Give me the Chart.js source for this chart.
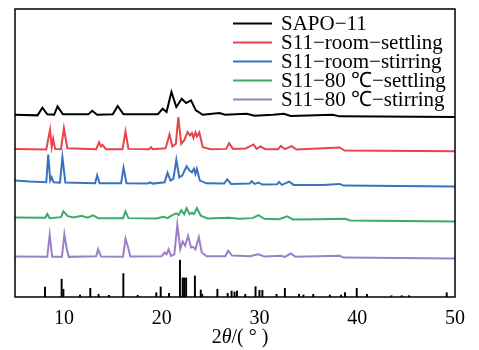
<!DOCTYPE html>
<html>
<head>
<meta charset="utf-8">
<script src="https://cdn.jsdelivr.net/npm/chart.js@4/dist/chart.umd.min.js"></script>
<style>
  html, body { margin: 0; padding: 0; background: #fff; }
  #wrap { width: 479px; height: 350px; }
</style>
</head>
<body>
<div id="wrap"><canvas id="xrd"></canvas></div>
<script>
// XRD patterns, [2theta, intensity above own baseline]
const sapo11 = [[5,2.3],[7.3,1.7],[7.8,9.3],[8.3,2.7],[9.0,2.3],[9.35,10.7],[9.9,2.7],[12.5,2.7],[12.9,6.3],[13.4,2.3],
  [15.0,2.7],[15.5,11],[16.1,2.7],[19.6,2.7],[20.1,8.3],[20.5,5],[21.0,25],[21.5,10],[22.05,18.3],[22.5,14],[23.0,16.7],
  [23.5,6.7],[24.2,2.3],[25.9,4],[26.5,2.3],[28.7,3.3],[29.5,1.3],[31.4,2.3],[32.5,3.3],[33.2,1],[37.5,2.3],[38.2,0.7],[50,0]];

const roomSettling = [[5,2.3],[8.2,1.7],[8.58,21.3],[8.75,4],[8.9,12.3],[9.1,2.3],[9.7,2],[10.0,23],[10.35,3],[13.3,2],
  [13.6,9],[13.8,4.7],[13.95,6.3],[14.3,2],[16.0,2],[16.3,19.7],[16.6,2.3],[18.7,2],[18.9,4],[19.1,2],[20.4,3],[20.8,16.7],
  [21.1,4.7],[21.45,7.3],[21.7,34],[22.0,7.3],[22.3,10.7],[22.65,19],[22.9,15.7],[23.1,18],[23.25,13.3],[23.45,18.7],
  [23.6,14.7],[23.85,18.7],[24.2,4],[25.0,2],[26.6,2.3],[26.9,8],[27.3,2.3],[28.6,2.7],[29.4,6.7],[29.7,2.3],[30.1,4.7],
  [30.6,2],[31.9,2],[32.2,5.3],[32.6,2],[33.3,5],[33.8,1.7],[38.2,3.7],[38.7,0.7],[50,0]];

const roomStirring = [[5,6],[6.5,5],[8.2,4.3],[8.4,32],[8.6,6],[8.75,9.3],[8.95,4.3],[9.6,4],[9.85,29.3],[10.15,4],
  [13.2,3.3],[13.4,11.3],[13.65,3.3],[15.85,3.3],[16.1,18.7],[16.4,3.3],[18.6,3],[18.8,4.3],[19.1,3],[20.3,4.3],[20.6,13.7],
  [20.9,6],[21.2,7.7],[21.5,26.7],[21.8,9.3],[22.1,11],[22.55,20.3],[22.85,16],[23.1,14.3],[23.3,17.7],[23.45,12.7],
  [23.6,17.7],[23.9,6],[24.6,3.3],[26.4,3],[26.7,7.3],[27.1,2.7],[29.0,3],[29.2,5.3],[29.5,2.7],[29.9,4],[30.3,2],
  [31.8,2.3],[32.0,4.7],[32.3,1.7],[33.05,5],[33.5,1.7],[36.5,1.7],[38.2,2.7],[38.6,1],[50,0]];

const hotSettling = [[5,4],[8.1,3.7],[8.3,7.3],[8.55,3.3],[9.7,4.3],[9.95,10],[10.4,5.3],[11.0,4],[11.8,5.7],[12.4,3.7],
  [13.0,6],[13.5,3.3],[16.05,3.3],[16.3,10],[16.6,3.3],[19.5,3],[20.2,4.7],[20.6,3.3],[21.0,5.7],[21.5,8],[21.75,6.3],
  [22.0,11.3],[22.3,7.3],[22.55,13.3],[22.85,7.3],[23.1,8.7],[23.3,7.3],[23.6,13.3],[24.0,5.7],[24.7,3],[26.9,3.7],
  [27.9,2.7],[29.3,3.3],[29.9,6.3],[30.5,2.7],[32.0,2.3],[32.85,5],[33.4,2],[35.8,2.3],[38.75,2.7],[39.3,1],[50,0]];

const hotStirring = [[5,2],[8.3,1.7],[8.55,23.7],[8.8,1.7],[9.8,1.7],[10.05,24.3],[10.3,9.3],[10.5,1.7],[13.3,2.3],
  [13.5,9.3],[13.8,2],[16.05,1.7],[16.3,20],[16.55,11.7],[16.8,2],[20.0,2.3],[20.3,6],[20.5,4.3],[20.7,9.3],[20.95,2.7],
  [21.3,4.3],[21.6,33.7],[21.9,9.3],[22.15,17],[22.4,12.7],[22.7,22.7],[23.0,11],[23.2,11.7],[23.45,9.3],[23.8,21.3],
  [24.1,6],[24.6,2.3],[26.5,2.3],[26.8,7.7],[27.2,3],[29.1,2.3],[29.4,3.3],[29.9,4.3],[30.5,2],[32.2,2.7],[32.6,1.7],
  [33.2,5],[33.7,1.7],[38.2,2.7],[38.6,1],[50,0]];

// standard reference pattern (sticks)
const refSticks = [[8.07,10],[9.77,17.7],[9.95,7.7],[11.65,2],[12.7,8.7],[13.55,2.7],[14.6,1.7],[16.08,23.3],[17.55,1.7],
  [19.45,4.3],[19.9,10],[20.75,3.7],[21.87,36.7],[22.15,19],[22.3,19],[22.5,19],[23.4,21],[24.0,7],[24.15,2.7],[25.7,7.7],
  [26.75,3.7],[27.15,6],[27.45,5],[27.7,6],[28.55,2.7],[29.6,10.3],[30.0,6.7],[30.3,6.7],[31.75,2.7],[32.6,8.7],[34.05,2.7],
  [34.5,2],[35.5,2.7],[37.2,2],[38.35,2],[38.75,4.3],[39.95,8.7],[41.0,2.7],[43.5,1.3],[44.55,1.3],[45.3,1.3],[49.15,4.3]];

const seriesNames = ['SAPO\u221211', 'S11\u2212room\u2212settling', 'S11\u2212room\u2212stirring',
  'S11\u221280 \u2103\u2212settling', 'S11\u221280 \u2103\u2212stirring'];
const seriesData = [sapo11, roomSettling, roomStirring, hotSettling, hotStirring];
const seriesColours = ['#000000', '#e8454b', '#3a72c0', '#3caa6c', '#9c80c6'];
// vertical stacking offsets
const stackOffsets = [179.3, 145.3, 110, 75.3, 38.3];

const xTicks = [10, 20, 30, 40, 50];

const serif = '"Liberation Serif", "Times New Roman", serif';

const datasets = seriesData.map((s, i) => ({
  type: 'line',
  label: seriesNames[i],
  data: s.map(p => ({ x: p[0], y: p[1] + stackOffsets[i] })),
  borderColor: seriesColours[i],
  borderWidth: 2,
  pointRadius: 0,
  tension: 0,
  fill: false
}));
datasets.push({
  type: 'bar',
  label: '',
  data: refSticks.map(p => ({ x: p[0], y: p[1] })),
  backgroundColor: '#000',
  barThickness: 1.3,
  grouped: false
});

const framePlugin = {
  id: 'frame',
  afterDraw(chart) {
    const { ctx, chartArea: a } = chart;
    ctx.save();
    ctx.strokeStyle = '#000';
    ctx.lineWidth = 1.5;
    ctx.strokeRect(a.left, a.top, a.right - a.left, a.bottom - a.top);

    // legend
    ctx.font = '21px ' + serif;
    ctx.textBaseline = 'middle';
    ctx.fillStyle = '#000';
    chart.data.datasets.forEach((d, i) => {
      if (!d.label) return;
      const y = 23.5 + i * 19;
      ctx.strokeStyle = d.borderColor;
      ctx.lineWidth = 2;
      ctx.beginPath();
      ctx.moveTo(233, y);
      ctx.lineTo(272, y);
      ctx.stroke();
      ctx.fillText(d.label, 281, y + 1);
    });

    // x axis title: 2θ/( ° ) with italic theta
    const parts = [['2', ''], ['\u03b8', 'italic '], ['/( \u00b0 )', '']];
    let total = 0;
    parts.forEach(p => { ctx.font = p[1] + '20px ' + serif; total += ctx.measureText(p[0]).width; });
    let x = (a.left + a.right) / 2 + 5 - total / 2;
    ctx.textAlign = 'left';
    parts.forEach(p => {
      ctx.font = p[1] + '20px ' + serif;
      ctx.fillText(p[0], x, 338);
      x += ctx.measureText(p[0]).width;
    });
    ctx.restore();
  }
};

new Chart(document.getElementById('xrd'), {
  type: 'line',
  data: { datasets },
  options: {
    responsive: true,
    maintainAspectRatio: false,
    animation: false,
    layout: { padding: { left: 15, right: 24, top: 9, bottom: 9 } },
    plugins: { legend: { display: false }, tooltip: { enabled: false } },
    scales: {
      x: {
        type: 'linear',
        min: 5,
        max: 50,
        offset: false,
        afterBuildTicks: axis => { axis.ticks = xTicks.map(v => ({ value: v })); },
        ticks: { color: '#000', padding: 10, font: { family: serif, size: 20 }, maxRotation: 0 },
        grid: { display: false, drawTicks: false, tickLength: 0 },
        border: { display: false }
      },
      y: {
        display: false,
        min: 0,
        max: 287
      }
    }
  },
  plugins: [framePlugin]
});
</script>
</body>
</html>
